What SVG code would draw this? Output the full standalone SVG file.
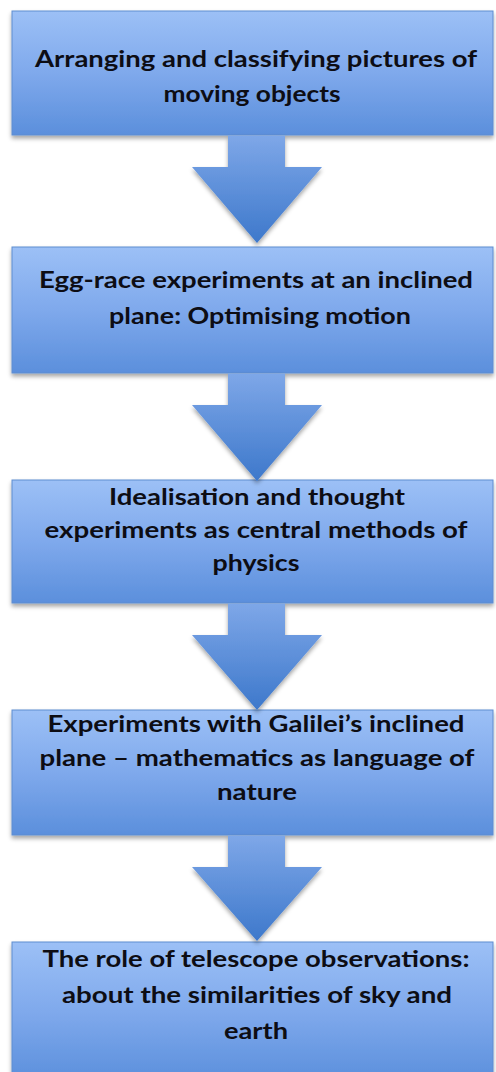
<svg xmlns="http://www.w3.org/2000/svg" width="496" height="1072" viewBox="0 0 496 1072">
  <defs>
    <linearGradient id="boxGrad" x1="0" y1="0" x2="0" y2="1">
      <stop offset="0" stop-color="#9cc0f6"/>
      <stop offset="0.5" stop-color="#7fa9ec"/>
      <stop offset="1" stop-color="#5b8fdc"/>
    </linearGradient>
    <linearGradient id="arrowGrad" x1="0" y1="0" x2="0" y2="1">
      <stop offset="0" stop-color="#7ea7e8"/>
      <stop offset="1" stop-color="#3d78cb"/>
    </linearGradient>
    <filter id="shadow" x="-5%" y="-10%" width="110%" height="130%">
      <feDropShadow dx="0" dy="3" stdDeviation="2" flood-color="#000" flood-opacity="0.35"/>
    </filter>
  </defs>
  <style>
    .box { fill: url(#boxGrad); stroke: #5f8dd0; stroke-width: 1; filter: url(#shadow); }
    .arrow { fill: url(#arrowGrad); stroke: none; filter: url(#shadow); }
    .label { font-family: Lato, "Liberation Sans", sans-serif; font-weight: bold; font-size: 23px; fill: #0d0d14; text-anchor: middle; }
  </style>
  <rect width="496" height="1072" fill="#ffffff"/>

  <g id="node1">
    <rect class="box" x="12" y="11" width="481" height="124"/>
    <text class="label" x="256" y="67" textLength="442" lengthAdjust="spacingAndGlyphs">Arranging and classifying pictures of</text>
    <text class="label" x="252" y="102" textLength="177" lengthAdjust="spacingAndGlyphs">moving objects</text>
  </g>

  <g id="node2">
    <rect class="box" x="12" y="247" width="481" height="126"/>
    <text class="label" x="256" y="288" textLength="434" lengthAdjust="spacingAndGlyphs">Egg-race experiments at an inclined</text>
    <text class="label" x="260" y="324" textLength="302" lengthAdjust="spacingAndGlyphs">plane: Optimising motion</text>
  </g>

  <g id="node3">
    <rect class="box" x="12" y="480" width="481" height="123"/>
    <text class="label" x="257" y="505" textLength="296" lengthAdjust="spacingAndGlyphs">Idealisation and thought</text>
    <text class="label" x="256" y="538" textLength="423" lengthAdjust="spacingAndGlyphs">experiments as central methods of</text>
    <text class="label" x="256" y="571" textLength="87" lengthAdjust="spacingAndGlyphs">physics</text>
  </g>

  <g id="node4">
    <rect class="box" x="12" y="710" width="481" height="125"/>
    <text class="label" x="256" y="732" textLength="417" lengthAdjust="spacingAndGlyphs">Experiments with Galilei’s inclined</text>
    <text class="label" x="257" y="766" textLength="435" lengthAdjust="spacingAndGlyphs">plane – mathematics as language of</text>
    <text class="label" x="257" y="800" textLength="80" lengthAdjust="spacingAndGlyphs">nature</text>
  </g>

  <g id="node5">
    <rect class="box" x="12" y="942" width="481" height="140"/>
    <text class="label" x="256" y="967" textLength="427" lengthAdjust="spacingAndGlyphs">The role of telescope observations:</text>
    <text class="label" x="257" y="1003" textLength="390" lengthAdjust="spacingAndGlyphs">about the similarities of sky and</text>
    <text class="label" x="256" y="1039" textLength="64" lengthAdjust="spacingAndGlyphs">earth</text>
  </g>

  <g id="connectors">
    <path class="arrow" d="M228,135.5 H285 V167 H322 L257,243 L192,167 H228 Z"/>
    <path class="arrow" d="M228,373.5 H285 V405 H322 L257,481 L192,405 H228 Z"/>
    <path class="arrow" d="M228,603.5 H285 V635 H322 L257,710 L192,635 H228 Z"/>
    <path class="arrow" d="M228,835.5 H285 V867 H322 L257,941 L192,867 H228 Z"/>
  </g>
</svg>
